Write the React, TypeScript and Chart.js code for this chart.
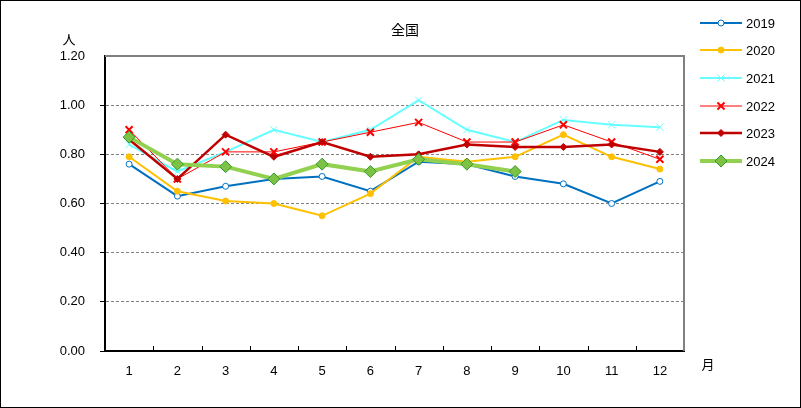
import React, { useEffect, useRef } from "react";
import { Chart, registerables } from "chart.js";

Chart.register(...registerables);

const months = ["1", "2", "3", "4", "5", "6", "7", "8", "9", "10", "11", "12"];
const yTicks = [0, 0.2, 0.4, 0.6, 0.8, 1.0, 1.2];
const v2019 = [0.76, 0.63, 0.67, 0.7, 0.71, 0.65, 0.77, 0.76, 0.71, 0.68, 0.6, 0.69];
const v2020 = [0.79, 0.65, 0.61, 0.6, 0.55, 0.64, 0.79, 0.77, 0.79, 0.88, 0.79, 0.74];
const v2021 = [0.84, 0.73, 0.81, 0.9, 0.85, 0.9, 1.02, 0.9, 0.85, 0.94, 0.92, 0.91];
const v2022 = [0.9, 0.7, 0.81, 0.81, 0.85, 0.89, 0.93, 0.85, 0.85, 0.92, 0.85, 0.78];
const v2023 = [0.86, 0.7, 0.88, 0.79, 0.85, 0.79, 0.8, 0.84, 0.83, 0.83, 0.84, 0.81];
const v2024 = [0.87, 0.76, 0.75, 0.7, 0.76, 0.73, 0.78, 0.76, 0.73];
const seriesNames = ["2019", "2020", "2021", "2022", "2023", "2024"];
const titleText = "全国";
const yUnit = "人";
const xUnit = "月";

const FONT = "'Liberation Sans', Arial, sans-serif";
const CJK = "'Noto Sans CJK JP', sans-serif";
const LEGEND_Y = [23, 50, 78, 106, 133, 161];

function drawPointShape(ctx: CanvasRenderingContext2D, style: string, r: number, x: number, y: number) {
  ctx.beginPath();
  if (style === "circle") {
    ctx.arc(x, y, r, 0, Math.PI * 2);
    ctx.fill();
    ctx.stroke();
  } else if (style === "rectRot") {
    ctx.moveTo(x, y - r);
    ctx.lineTo(x + r, y);
    ctx.lineTo(x, y + r);
    ctx.lineTo(x - r, y);
    ctx.closePath();
    ctx.fill();
    ctx.stroke();
  } else if (style === "crossRot") {
    const d = r * Math.SQRT1_2;
    ctx.moveTo(x - d, y - d);
    ctx.lineTo(x + d, y + d);
    ctx.moveTo(x + d, y - d);
    ctx.lineTo(x - d, y + d);
    ctx.stroke();
  }
}

const overlay = {
  id: "overlay",
  beforeDatasetsDraw(chart: any) {
    const { ctx, chartArea: a } = chart;
    ctx.save();
    ctx.strokeStyle = "#808080";
    ctx.lineWidth = 2;
    ctx.beginPath();
    ctx.moveTo(a.left, a.top);
    ctx.lineTo(a.right, a.top);
    ctx.lineTo(a.right, a.bottom);
    ctx.stroke();
    const xs = chart.scales.x;
    ctx.strokeStyle = "#000";
    ctx.lineWidth = 1;
    for (let i = 0; i < months.length - 1; i++) {
      const x = Math.round((xs.getPixelForTick(i) + xs.getPixelForTick(i + 1)) / 2) + 0.5;
      ctx.beginPath();
      ctx.moveTo(x, a.bottom);
      ctx.lineTo(x, a.bottom - 5);
      ctx.stroke();
    }
    ctx.restore();
  },
  afterDraw(chart: any) {
    const { ctx } = chart;
    ctx.save();
    ctx.fillStyle = "#000";
    ctx.textAlign = "center";
    ctx.textBaseline = "middle";
    ctx.font = `14px ${CJK}`;
    ctx.fillText(titleText, 405, 30);
    ctx.font = `13px ${CJK}`;
    ctx.fillText(yUnit, 69, 39);
    ctx.fillText(xUnit, 708, 364);
    chart.data.datasets.forEach((ds: any, i: number) => {
      const y = LEGEND_Y[i];
      ctx.strokeStyle = ds.borderColor;
      ctx.lineWidth = ds.borderWidth;
      ctx.beginPath();
      ctx.moveTo(700, y);
      ctx.lineTo(742, y);
      ctx.stroke();
      ctx.save();
      ctx.strokeStyle = ds.pointBorderColor;
      ctx.fillStyle = ds.pointBackgroundColor;
      ctx.lineWidth = ds.pointBorderWidth;
      drawPointShape(ctx, ds.pointStyle, ds.pointRadius, 721, y);
      ctx.restore();
      ctx.fillStyle = "#000";
      ctx.textAlign = "left";
      ctx.font = `13px ${FONT}`;
      ctx.fillText(ds.label, 746, y + 1);
    });
    ctx.restore();
  },
};

export default function App() {
  const ref = useRef<HTMLCanvasElement>(null);
  useEffect(() => {
    const mk = (label: string, data: number[], color: string, width: number, extra: any, order: number) => ({
      label,
      data,
      borderColor: color,
      backgroundColor: color,
      borderWidth: width,
      pointBorderColor: color,
      pointBackgroundColor: color,
      order,
      ...extra,
    });
    const datasets = [
      mk(seriesNames[0], v2019, "#0070C0", 2, { pointStyle: "circle", pointRadius: 3, pointBackgroundColor: "#fff", pointBorderWidth: 1 }, 5),
      mk(seriesNames[1], v2020, "#FFC000", 2, { pointStyle: "circle", pointRadius: 3, pointBorderWidth: 1 }, 4),
      mk(seriesNames[2], v2021, "#66FFFF", 2, { pointStyle: "crossRot", pointRadius: 5, pointBorderWidth: 1 }, 3),
      mk(seriesNames[3], v2022, "#FF0000", 1, { pointStyle: "crossRot", pointRadius: 5, pointBorderWidth: 2 }, 2),
      mk(seriesNames[4], v2023, "#C00000", 2.5, { pointStyle: "rectRot", pointRadius: 3.5, pointBorderWidth: 1 }, 1),
      mk(seriesNames[5], v2024, "#92D050", 4, { pointStyle: "rectRot", pointRadius: 6, pointBackgroundColor: "#7DC242", pointBorderColor: "#339933", pointBorderWidth: 1 }, 0),
    ];
    const chart = new Chart(ref.current!, {
      type: "line",
      data: { labels: months, datasets },
      options: {
        animation: false,
        responsive: false,
        devicePixelRatio: 1,
        layout: { padding: { left: 0, top: 56, right: 117, bottom: 27 } },
        plugins: { legend: { display: false }, tooltip: { enabled: false }, title: { display: false } },
        elements: { line: { tension: 0 } },
        scales: {
          x: {
            offset: true,
            grid: { display: false, offset: true },
            border: { display: true, color: "#000", width: 2 },
            ticks: { color: "#000", font: { family: FONT, size: 13 }, maxRotation: 0, padding: 5 },
            afterFit: (s: any) => { s.height = 30; },
          },
          y: {
            min: 0,
            max: 1.2,
            afterBuildTicks: (s: any) => { s.ticks = yTicks.map((v) => ({ value: v })); },
            grid: {
              color: (c: any) => (c.tick && (c.tick.value === 0 || Math.abs(c.tick.value - 1.2) < 1e-6) ? "rgba(0,0,0,0)" : "#808080"),
              tickColor: (c: any) => (c.tick && Math.abs(c.tick.value - 1.2) < 1e-6 ? "rgba(0,0,0,0)" : "#000"),
              tickLength: 5,
              lineWidth: 1,
            },
            border: { display: true, color: "#000", width: 2, dash: [3, 2] },
            ticks: {
              color: "#000",
              font: { family: FONT, size: 13 },
              padding: 15,
              callback: (v: any) => Number(v).toFixed(2),
            },
            afterFit: (s: any) => { s.width = 105; },
          },
        },
      },
      plugins: [overlay],
    });
    return () => chart.destroy();
  }, []);
  return (
    <div style={{ position: "fixed", left: 0, top: 0, width: 801, height: 408, background: "#fff" }}>
      <canvas ref={ref} width={801} height={408} style={{ display: "block" }} />
      <div style={{ position: "absolute", left: 0, top: 0, width: 799, height: 406, border: "1px solid #000", pointerEvents: "none" }} />
    </div>
  );
}
